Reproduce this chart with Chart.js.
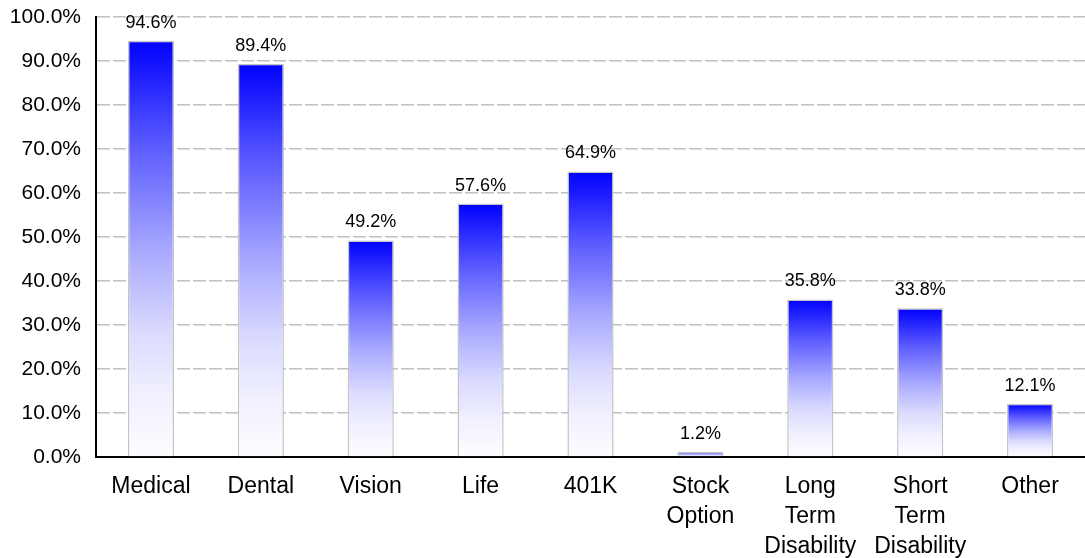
<!DOCTYPE html>
<html lang="en">
<head>
    <meta charset="UTF-8">
    <title>Benefits Offered</title>
    <script src="https://cdn.jsdelivr.net/npm/chart.js"></script>
    <style>
        html, body { margin: 0; padding: 0; background: #fff; }
        .chart-container { width: 1085px; height: 558px; }
    </style>
</head>
<body>
    <div class="chart-container">
        <canvas id="benefitsChart"></canvas>
    </div>

    <script>
        const categories = [
            'Medical', 'Dental', 'Vision', 'Life', '401K',
            ['Stock', 'Option'], ['Long', 'Term', 'Disability'],
            ['Short', 'Term', 'Disability'], 'Other'
        ];
        const percentages = [94.6, 89.4, 49.2, 57.6, 64.9, 1.2, 35.8, 33.8, 12.1];
        const yTicks = [0, 10, 20, 30, 40, 50, 60, 70, 80, 90, 100];

        // each bar fades from blue at its own top to white at the base
        function barGradient(context) {
            const chart = context.chart;
            if (!chart.chartArea) return '#8080ff';
            const y = chart.scales.y;
            const top = y.getPixelForValue(context.raw);
            const bottom = y.getPixelForValue(0);
            if (bottom - top < 1) return '#c8c8ff';
            const g = chart.ctx.createLinearGradient(0, top, 0, bottom);
            g.addColorStop(0, '#0000ff');
            g.addColorStop(0.25, '#5a5aff');
            g.addColorStop(0.5, '#a8a8ff');
            g.addColorStop(0.7, '#dadaff');
            g.addColorStop(0.85, '#f0f0ff');
            g.addColorStop(1, '#fdfdff');
            return g;
        }

        const valueLabels = {
            id: 'valueLabels',
            afterDatasetsDraw(chart) {
                const ctx = chart.ctx;
                const meta = chart.getDatasetMeta(0);
                ctx.save();
                ctx.font = '18px "Liberation Sans", Arial, sans-serif';
                ctx.fillStyle = '#000';
                ctx.textAlign = 'center';
                ctx.textBaseline = 'bottom';
                meta.data.forEach((bar, i) => {
                    ctx.fillText(percentages[i].toFixed(1) + '%', bar.x, bar.y - 9);
                });
                ctx.restore();
            }
        };

        const ctx = document.getElementById('benefitsChart').getContext('2d');
        new Chart(ctx, {
            type: 'bar',
            data: {
                labels: categories,
                datasets: [{
                    data: percentages,
                    backgroundColor: barGradient,
                    borderColor: '#c4c4c4',
                    borderWidth: 1.5,
                    barPercentage: 0.42,
                    categoryPercentage: 1.0
                }]
            },
            options: {
                responsive: true,
                maintainAspectRatio: false,
                animation: false,
                layout: { padding: { top: 17, right: 0, left: 0, bottom: 0 } },
                plugins: {
                    legend: { display: false },
                    tooltip: { enabled: false }
                },
                scales: {
                    x: {
                        grid: { display: false },
                        border: { color: '#000', width: 2 },
                        ticks: {
                            color: '#000',
                            padding: 7,
                            maxRotation: 0,
                            autoSkip: false,
                            font: { family: '"Liberation Sans", Arial, sans-serif', size: 23, lineHeight: 1.3 }
                        },
                        afterFit(scale) { scale.height = 101; }
                    },
                    y: {
                        min: 0,
                        max: 100,
                        afterBuildTicks(scale) {
                            scale.ticks = yTicks.map(v => ({ value: v }));
                        },
                        grid: {
                            color: '#c0c0c0',
                            lineWidth: 1.5,
                            drawTicks: false
                        },
                        border: { color: '#000', width: 2, dash: [13, 3] },
                        ticks: {
                            color: '#000',
                            padding: 15,
                            font: { family: '"Liberation Sans", Arial, sans-serif', size: 21 },
                            callback: v => v.toFixed(1) + '%'
                        },
                        afterFit(scale) {
                            scale.width = 96;
                            scale.paddingTop = 0;
                            scale.paddingBottom = 0;
                        }
                    }
                }
            },
            plugins: [valueLabels]
        });
    </script>
</body>
</html>
